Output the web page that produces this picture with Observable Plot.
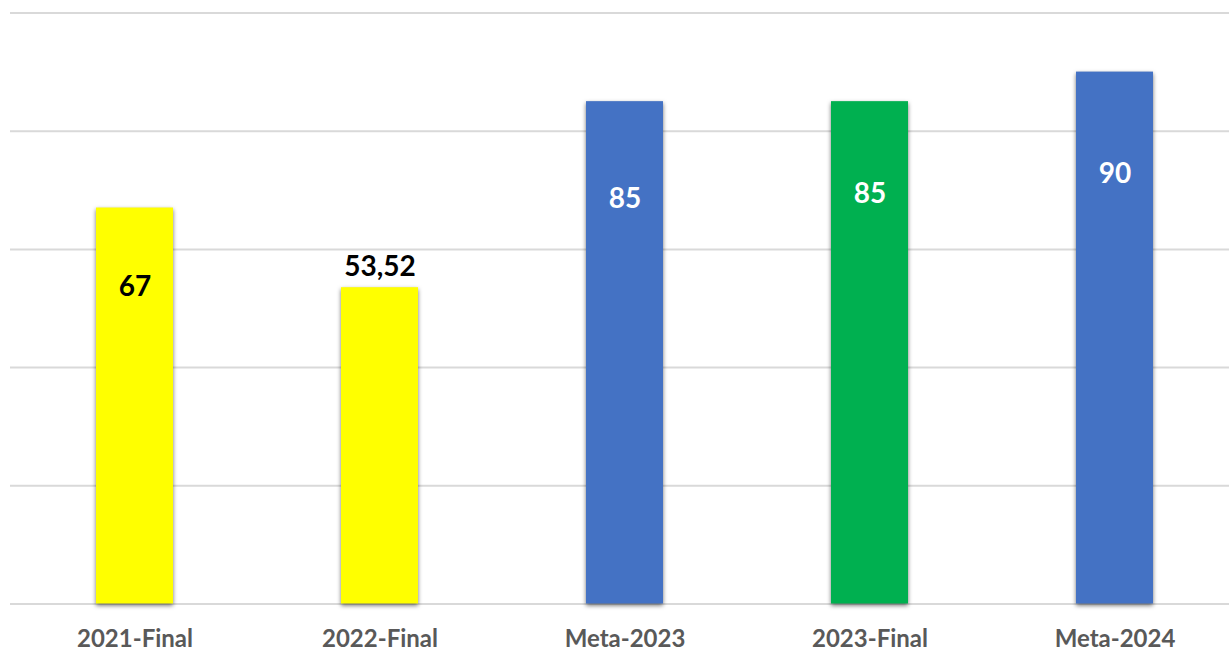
<!DOCTYPE html>
<html>
<head>
<meta charset="utf-8">
<script src="https://cdn.jsdelivr.net/npm/d3@7"></script>
<script src="https://cdn.jsdelivr.net/npm/@observablehq/plot@0.6"></script>
<style>
  html, body { margin: 0; padding: 0; background: #fff; }
  #chart { width: 1229px; height: 649px; overflow: hidden; }
</style>
</head>
<body>
<div id="chart"></div>
<script>
const categories = ["2021-Final", "2022-Final", "Meta-2023", "2023-Final", "Meta-2024"];
const values = [67, 53.52, 85, 85, 90];
const labels = ["67", "53,52", "85", "85", "90"];
const barColors = ["#FFFF00", "#FFFF00", "#4472C4", "#00B050", "#4472C4"];
const labelColors = ["#000000", "#000000", "#FFFFFF", "#FFFFFF", "#FFFFFF"];
const yTicks = [0, 20, 40, 60, 80, 100];

const rows = categories.map((c, i) => ({
  category: c, value: values[i], label: labels[i],
  color: barColors[i], labelColor: labelColors[i]
}));

// label offsets (pixels) relative to bar top
const labelDy = [79, -21, 97, 92, 102];

const labelMarks = rows.map((r, i) => Plot.text([r], {
  x: "category", y: "value", text: "label",
  fill: "labelColor", dy: labelDy[i],
  fontSize: 28, fontWeight: "bold", fontFamily: "Lato",
  lineAnchor: "middle", textAnchor: "middle"
}));

const chart = Plot.plot({
  width: 1229,
  height: 649,
  marginLeft: 10,
  marginRight: 0,
  marginTop: 12.5,
  marginBottom: 45.5,
  style: { fontFamily: "Lato", background: "#ffffff" },
  x: { domain: categories, range: [10, 1239], padding: 0, label: null },
  y: { domain: [0, 100], range: [603.5, 12.5], axis: null },
  color: { type: "identity" },
  marks: [
    Plot.ruleY(yTicks, { stroke: "#d9d9d9", strokeWidth: 2 }),
    Plot.barY(rows, {
      x: "category", y: "value", fill: "color",
      insetLeft: 84, insetRight: 84
    }),
    ...labelMarks,
    Plot.axisX({
      tickSize: 0, tickPadding: 26, fontSize: 24, fontWeight: "bold",
      fill: "#595959", label: null
    })
  ]
});

d3.select(chart).selectAll('g[aria-label="bar"]')
  .style("filter", "drop-shadow(0px 2px 2px rgba(0,0,0,0.55))");

document.getElementById("chart").appendChild(chart);
</script>
</body>
</html>
